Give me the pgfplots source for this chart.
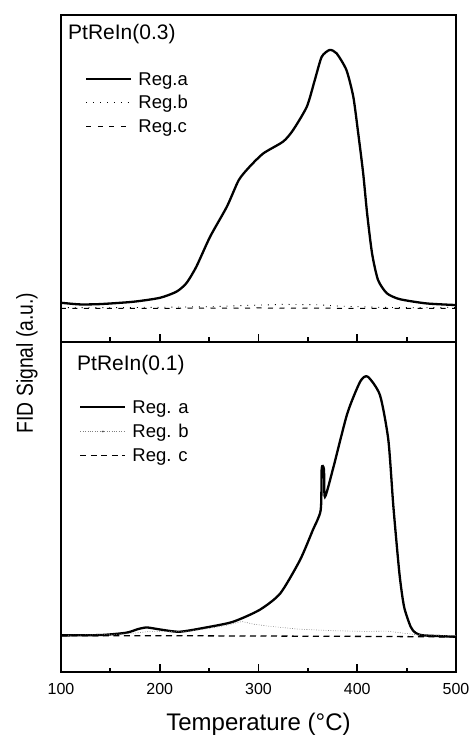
\documentclass[border=0pt]{standalone}
\usepackage{fontspec}
\setmainfont{Liberation Sans}
\usepackage{pgfplots}
\pgfplotsset{compat=1.18}
\newcommand{\legfont}{\fontsize{18.5}{22}\selectfont}
\newcommand{\labfont}{\fontsize{21}{25}\selectfont}
\pgfplotsset{
  common/.style={
    scale only axis, width=395pt,
    xmin=100, xmax=500, ymin=0, ymax=100,
    axis line style={line width=2.4pt},
    tick style={line width=1.8pt, black},
    major tick length=8pt, minor tick length=4.5pt,
    tick align=inside,
    xtick={100,200,300,400,500},
    minor xtick={150,250,350,450},
    xtick pos=bottom,
    ytick=\empty,
    /pgf/number format/assume math mode=true,
    legend cell align=left,
  },
  rega/.style={black, line width=2.3pt, smooth, tension=0.4},
  lineleg/.style={legend image code/.code={\draw[##1] (0pt,0.4em) -- (45pt,0.4em);}},
  dotleg/.style={legend image code/.code={\draw[##1] (0pt,0.4em) -- (45pt,0.4em); \fill[black!70] (22.5pt,0.4em) circle (0.9pt);}},
}
\begin{document}
\begin{tikzpicture}
\path[use as bounding box] (-61pt,-68pt) rectangle (411pt,672pt);
% ---------- bottom panel ----------
\begin{axis}[common, at={(0,0)}, anchor=south west, height=330pt,
  xticklabel style={font=\fontsize{16}{19}\selectfont, yshift=-8pt},
  xlabel={\fontsize{24}{28}\selectfont Temperature (°C)},
  xlabel style={at={(axis description cs:0.5,0)}, anchor=base, yshift=-58pt},
  legend style={at={(axis description cs:0,1)}, anchor=north west, xshift=18pt, yshift=-57pt,
    draw=none, fill=none, inner sep=0pt, font=\legfont, row sep=0pt,
    nodes={inner sep=0pt, text height=14pt, text depth=10.2pt},
    /tikz/every odd column/.append style={column sep=6pt}},
  lineleg,
]
\addplot[rega] coordinates {
(100,11.1) (140,11.2) (166,11.9) (178,13.0) (187,13.5) (200,12.9) (220,12.2)
(247,13.5) (274,15.2) (301,18.8) (322,23.8) (342,33.9) (355,43.0) (363,49.1)
(364,61.7) (366.3,61.4) (367.3,53.1) (376,62.2) (390,78.4) (403,88.0) (410.6,89.5)
(423,83.9) (431.5,70.3) (436.6,50.1) (442.7,29.9) (447.4,19.8) (454.1,13.7) (458.9,11.9)
(467,11.1) (500,10.7)};
\addlegendentry{\legfont Reg. a}
\addplot[gray, line width=0.6pt, dash pattern=on 0.8pt off 1.6pt, dotleg] coordinates {
(100,11.1) (150,11.3) (175,11.8) (190,12.3) (205,12.3) (225,12.2) (250,13.2)
(270,14.3) (283,15.3) (295,14.5) (310,13.9) (340,13.0) (376,12.5) (410,12.3)
(430,12.4) (443,11.9) (460,11.3) (500,11.0)};
\addlegendentry{\legfont Reg. b}
\addplot[black, line width=1.3pt, dash pattern=on 6pt off 4.5pt] coordinates {
(100,11.0) (200,11.0) (300,10.9) (400,10.8) (460,10.7) (500,10.6)};
\addlegendentry{\legfont Reg. c}
\end{axis}
% ---------- top panel ----------
\begin{axis}[common, at={(0,330pt)}, anchor=south west, height=327pt,
  xticklabels=\empty,
  legend style={at={(axis description cs:0,1)}, anchor=north west, xshift=24pt, yshift=-56pt,
    draw=none, fill=none, inner sep=0pt, font=\legfont, row sep=0pt,
    nodes={inner sep=0pt, text height=14pt, text depth=9.6pt},
    /tikz/every odd column/.append style={column sep=6pt}},
  lineleg,
]
\addplot[rega] coordinates {
(100,12.0) (119,11.5) (140,11.6) (173,12.3) (200,13.5) (217,15.4) (227,18.0)
(237,23.0) (251,32.2) (268,41.4) (280,49.5) (291,53.6) (305,57.7) (325,61.3)
(335,64.8) (349,72.0) (357,80.1) (364,87.2) (372,89.3) (379,88.3) (389,83.2)
(396,75.0) (401,63.8) (406,51.6) (410,39.3) (415,27.1) (421,19.0) (430,14.9)
(443,13.1) (470,11.8) (500,11.3)};
\addlegendentry{\legfont Reg.a}
\addplot[black, line width=0.9pt, dash pattern=on 0.9pt off 6pt] coordinates {
(100,10.5) (150,10.5) (200,10.6) (250,10.8) (290,11.2) (325,11.5) (360,11.4)
(380,11.0) (420,10.6) (460,10.5) (500,10.6)};
\addlegendentry{\legfont Reg.b}
\addplot[black, line width=1pt, dash pattern=on 5pt off 6.5pt] coordinates {
(100,10.3) (200,10.3) (300,10.4) (400,10.3) (500,10.3)};
\addlegendentry{\legfont Reg.c}
\end{axis}
\node[anchor=base west, inner sep=0pt] at (7pt,632pt) {\labfont PtReIn(0.3)};
\node[anchor=base west, inner sep=0pt] at (16pt,301.3pt) {\labfont PtReIn(0.1)};
\node[rotate=90] at (-34pt,309pt) {\scalebox{0.84}[1]{\fontsize{23}{27}\selectfont FID Signal (a.u.)}};
\end{tikzpicture}
\end{document}
